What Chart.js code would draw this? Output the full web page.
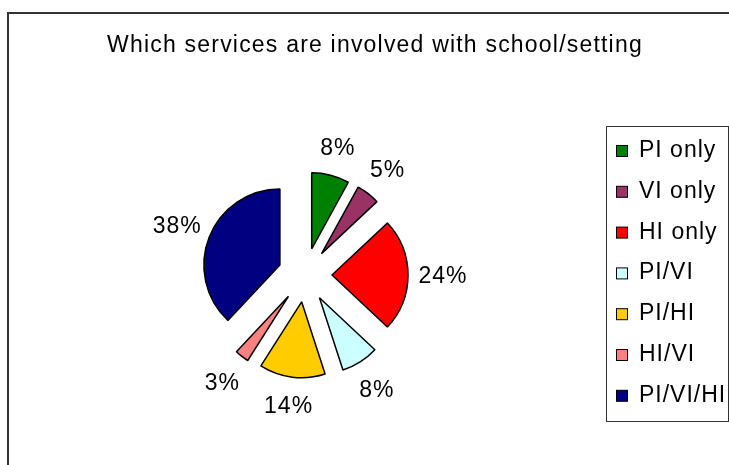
<!DOCTYPE html>
<html>
<head>
<meta charset="utf-8">
<script src="https://cdn.jsdelivr.net/npm/chart.js@4"></script>
<style>
  html, body { margin: 0; padding: 0; background: #fff; }
  #wrap { width: 729px; height: 465px; }
</style>
</head>
<body>
<div id="wrap"><canvas id="c" width="729" height="465"></canvas></div>
<script>
// Survey answers: which services are involved with the school/setting
const chartTitle = 'Which services are involved with school/setting';
const categories = ['PI only', 'VI only', 'HI only', 'PI/VI', 'PI/HI', 'HI/VI', 'PI/VI/HI'];
const shares = [8, 5, 24, 8, 14, 3, 38];
const sliceColors = ['#008000', '#993366', '#FF0000', '#CCFFFF', '#FFCC00', '#FF8080', '#000080'];

const FONT = '"Liberation Sans", Arial, Helvetica, sans-serif';
const EXPLODE = 27;      // distance each slice is pulled out from the centre
const LABEL_GAP = 27;    // base distance of a percentage label beyond the slice edge
const LABEL_GAP_X = 8;   // extra room for labels beside the pie (wider than tall)

const total = shares.reduce((a, b) => a + b, 0);

function setSpacing(ctx, px) {
  if ('letterSpacing' in ctx) ctx.letterSpacing = px + 'px';
}

// White background and the chart frame
const framePlugin = {
  id: 'frame',
  beforeDraw(chart) {
    const ctx = chart.ctx;
    ctx.save();
    ctx.fillStyle = '#fff';
    ctx.fillRect(0, 0, chart.width, chart.height);
    ctx.strokeStyle = '#333';
    ctx.lineWidth = 2;
    ctx.beginPath();
    ctx.moveTo(8, chart.height);
    ctx.lineTo(8, 13);
    ctx.lineTo(chart.width, 13);
    ctx.stroke();
    ctx.restore();
  }
};

// Draw every slice pulled out along its own bisector
const explodePlugin = {
  id: 'explode',
  beforeDatasetDraw(chart, args) {
    const ctx = chart.ctx;
    args.meta.data.forEach(arc => {
      const { startAngle, endAngle } = arc.getProps(['startAngle', 'endAngle'], true);
      const mid = (startAngle + endAngle) / 2;
      ctx.save();
      ctx.translate(Math.cos(mid) * EXPLODE, Math.sin(mid) * EXPLODE);
      arc.draw(ctx);
      ctx.restore();
    });
    return false;
  }
};

// Percentage labels outside each slice
const labelPlugin = {
  id: 'sliceLabels',
  afterDatasetsDraw(chart) {
    const ctx = chart.ctx;
    const meta = chart.getDatasetMeta(0);
    ctx.save();
    ctx.font = '23px ' + FONT;
    setSpacing(ctx, 1);
    ctx.fillStyle = '#000';
    ctx.textAlign = 'center';
    ctx.textBaseline = 'alphabetic';
    meta.data.forEach((arc, i) => {
      const p = arc.getProps(['x', 'y', 'startAngle', 'endAngle', 'outerRadius'], true);
      const mid = (p.startAngle + p.endAngle) / 2;
      const c = Math.cos(mid), s = Math.sin(mid);
      const r = p.outerRadius + EXPLODE + LABEL_GAP + LABEL_GAP_X * Math.abs(c);
      const lx = p.x + c * r;
      const ly = p.y + s * r;
      const txt = Math.round(shares[i] / total * 100) + '%';
      ctx.fillText(txt, lx, ly + 8.3);
    });
    ctx.restore();
  }
};

// Title and boxed legend
const textPlugin = {
  id: 'titleLegend',
  afterDraw(chart) {
    const ctx = chart.ctx;
    ctx.save();
    ctx.fillStyle = '#000';
    ctx.font = '23px ' + FONT;
    setSpacing(ctx, 1.2);
    ctx.textAlign = 'center';
    ctx.textBaseline = 'alphabetic';
    ctx.fillText(chartTitle, 375, 52);

    // legend box
    ctx.strokeStyle = '#333';
    ctx.lineWidth = 1;
    ctx.strokeRect(606.5, 126.5, 122, 295);

    ctx.textAlign = 'left';
    setSpacing(ctx, 1);
    const rowGap = 40.8;
    categories.forEach((name, i) => {
      const cy = 151 + i * rowGap;
      ctx.fillStyle = sliceColors[i];
      ctx.fillRect(616, cy - 5.5, 11, 11);
      ctx.strokeStyle = '#000';
      ctx.lineWidth = 1;
      ctx.strokeRect(616.5, cy - 5.5, 11, 11);
      ctx.fillStyle = '#000';
      ctx.fillText(name, 639, cy + 6);
    });
    ctx.restore();
  }
};

new Chart(document.getElementById('c'), {
  type: 'pie',
  data: {
    labels: categories,
    datasets: [{
      data: shares,
      backgroundColor: sliceColors,
      borderColor: '#000',
      borderWidth: 1.5
    }]
  },
  options: {
    responsive: false,
    animation: false,
    radius: 76,
    layout: { padding: { left: 155, right: 274, top: 125, bottom: 40 } },
    plugins: {
      legend: { display: false },
      title: { display: false },
      tooltip: { enabled: false }
    }
  },
  plugins: [framePlugin, explodePlugin, labelPlugin, textPlugin]
});
</script>
</body>
</html>
